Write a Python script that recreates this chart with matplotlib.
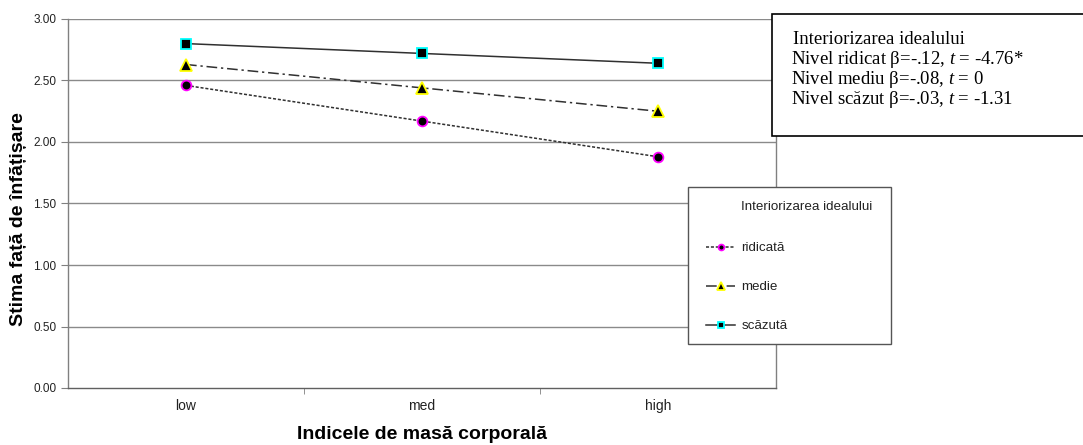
import matplotlib
matplotlib.use("Agg")
import matplotlib.pyplot as plt
from matplotlib.patches import Rectangle

plt.rcParams['font.family'] = ['Liberation Sans', 'DejaVu Sans']
plt.rcParams['mathtext.fontset'] = 'custom'
plt.rcParams['mathtext.rm'] = 'Liberation Serif'
plt.rcParams['mathtext.it'] = 'Liberation Serif:italic'

# Data
categories = ['low', 'med', 'high']
ridicata = [2.46, 2.17, 1.88]
medie = [2.63, 2.44, 2.25]
scazuta = [2.80, 2.72, 2.64]
series_labels = ['ridicată', 'medie', 'scăzută']
y_ticks = [0.0, 0.5, 1.0, 1.5, 2.0, 2.5, 3.0]
legend_title = 'Interiorizarea idealului'
box_lines = ['Interiorizarea idealului',
             'Nivel ridicat β=-.12, $t$ = -4.76*',
             'Nivel mediu β=-.08, $t$ = 0',
             'Nivel scăzut β=-.03, $t$ = -1.31']

W, H = 1083, 445
fig = plt.figure(figsize=(W / 100, H / 100), dpi=100)
ax = fig.add_axes([68 / W, 1 - 388 / H, (776 - 68) / W, (388 - 19) / H])

x = list(range(len(categories)))
line_c = '#303030'
l1, = ax.plot(x, ridicata, linestyle=(0, (2, 1.2)), color=line_c, lw=1.1,
              marker='o', ms=7, mfc='black', mec='#ff00ff', mew=1.3, zorder=4)
l2, = ax.plot(x, medie, linestyle=(0, (7, 2.5, 1.5, 2.5)), color=line_c, lw=1.1,
              marker='^', ms=8.5, mfc='black', mec='#ffff00', mew=1.3, zorder=4)
l3, = ax.plot(x, scazuta, linestyle='-', color=line_c, lw=1.1,
              marker='s', ms=7.5, mfc='black', mec='#00ffff', mew=1.3, zorder=4)

ax.set_xlim(-0.5, 2.5)
ax.set_ylim(0, 3.0)
ax.set_yticks(y_ticks)
ax.set_yticklabels([f'{v:.2f}' for v in y_ticks])
ax.set_xticks(x)
ax.set_xticklabels(categories)
ax.set_xticks([0.5, 1.5], minor=True)
ax.tick_params(axis='x', which='major', length=0, pad=8, labelsize=10, labelcolor='#222222')
ax.tick_params(axis='x', which='minor', length=4, color='#808080', direction='out')
ax.tick_params(axis='y', length=5, color='#808080', direction='out', pad=3.5,
               labelsize=8.5, labelcolor='#222222')

for yv in y_ticks[1:]:
    ax.axhline(yv, color='#8a8a8a', lw=1.0, zorder=1)

for side in ['left', 'right', 'bottom']:
    ax.spines[side].set_color('#808080')
    ax.spines[side].set_linewidth(1.0)
ax.spines['top'].set_visible(False)
ax.spines['bottom'].set_color('#606060')

ax.set_ylabel('Stima față de înfățișare', fontsize=14, fontweight='bold')
ax.yaxis.set_label_coords(-0.058, 0.459)
ax.set_xlabel('Indicele de masă corporală', fontsize=14, fontweight='bold')
ax.xaxis.set_label_coords(0.5, -0.104)

# Legend panel
fig.add_artist(Rectangle((688 / W, 1 - 344 / H), 203 / W, 157 / H,
                         transform=fig.transFigure, facecolor='white',
                         edgecolor='#555555', lw=1.0, zorder=3))
fig.text(741 / W, 1 - 207 / H, legend_title, fontsize=9.6, va='center', ha='left',
         color='#222222', zorder=5)
leg = fig.legend([l1, l2, l3], series_labels, loc='upper left',
                 bbox_to_anchor=(706 / W, 1 - 242 / H), bbox_transform=fig.transFigure,
                 frameon=False, fontsize=9.6, handlelength=2.2, handletextpad=0.45,
                 labelspacing=2.0, borderpad=0, borderaxespad=0, markerscale=0.6)
leg.set_zorder(5)
for t in leg.get_texts():
    t.set_color('#222222')

# Regression summary box
fig.add_artist(Rectangle((772 / W, 1 - 136 / H), 0.5, 122 / H,
                         transform=fig.transFigure, facecolor='white',
                         edgecolor='black', lw=1.2, zorder=3))
for i, s in enumerate(box_lines):
    x0 = 793 if '$' not in s else 791
    fig.text(x0 / W, 1 - (39 + 20 * i) / H, s, fontsize=13.5, family='Liberation Serif',
             va='center', ha='left', color='black', zorder=5)

fig.savefig('out.png', dpi=100)
